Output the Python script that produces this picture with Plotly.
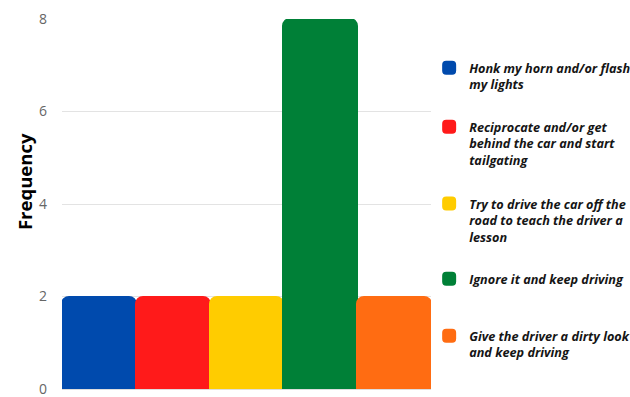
import plotly.graph_objects as go

categories = [
    "Honk my horn and/or flash<br>my lights",
    "Reciprocate and/or get<br>behind the car and start<br>tailgating",
    "Try to drive the car off the<br>road to teach the driver a<br>lesson",
    "Ignore it and keep driving",
    "Give the driver a dirty look<br>and keep driving",
]
frequencies = [2, 2, 2, 8, 2]
colors = ["#004AAD", "#FF1A1A", "#FFCC00", "#008037", "#FF6C12"]
y_ticks = [0, 2, 4, 6, 8]
y_title = "Frequency"

legend_names = ["legend", "legend2", "legend3", "legend4", "legend5"]
legend_tops = [0.908, 0.749, 0.541, 0.338, 0.184]

fig = go.Figure()
for i, (cat, val, col) in enumerate(zip(categories, frequencies, colors)):
    fig.add_trace(go.Bar(
        x=[i], y=[val], name=cat, marker=dict(color=col, line=dict(width=2, color=col)),
        width=1.0, legend=legend_names[i],
    ))

legend_style = dict(
    x=0.995, xanchor="left", yanchor="top",
    font=dict(family="Open Sans", size=12.7, color="#151515", weight="bold", style="italic"),
    valign="top", itemwidth=30, bgcolor="rgba(0,0,0,0)",
)
layout_legends = {name: dict(legend_style, y=yt) for name, yt in zip(legend_names, legend_tops)}

fig.update_layout(
    width=630, height=397,
    margin=dict(l=62, r=199, t=19, b=8, autoexpand=False),
    paper_bgcolor="white", plot_bgcolor="white",
    barmode="overlay", bargap=0, barcornerradius=7,
    font=dict(family="Open Sans", color="#222"),
    showlegend=True,
    xaxis=dict(range=[-0.5, 4.5], showticklabels=False, showgrid=False, zeroline=False,
               showline=True, linecolor="#dddddd", linewidth=1, ticks="", automargin=False),
    yaxis=dict(range=[0, 8], tickvals=y_ticks, showgrid=True, gridcolor="#e3e3e3",
               zeroline=False, tickfont=dict(size=14, color="#666"), automargin=False,
               ticklabeloverflow="allow", ticklabelstandoff=14),
    annotations=[dict(
        text=y_title, textangle=-90, xref="paper", yref="paper",
        x=-0.103, y=0.562, xanchor="center", yanchor="middle", showarrow=False,
        font=dict(family="Open Sans", size=18.5, color="#000", weight="bold"),
    )],
    **layout_legends,
)

fig.write_html("out.html", config={"displayModeBar": False},
               post_script="document.body.style.margin='0';document.body.style.overflow='hidden';")
